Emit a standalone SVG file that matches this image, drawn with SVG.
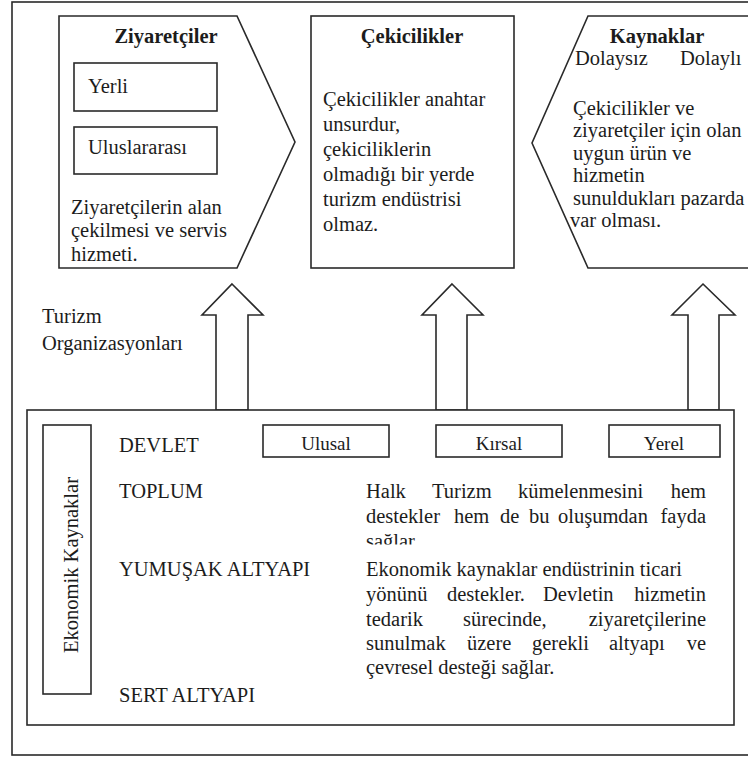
<svg xmlns="http://www.w3.org/2000/svg" width="748" height="758" viewBox="0 0 748 758">
<defs>
<style>
.ln{fill:#fff;stroke:#2a2a2a;stroke-width:1.6}
.t{font-family:"Liberation Serif","Times New Roman",serif;font-size:20.5px;fill:#1c1c1c}
.e{text-anchor:end}
.b{font-family:"Liberation Serif","Times New Roman",serif;font-size:20.5px;font-weight:bold;fill:#1c1c1c}
.s{font-family:"Liberation Serif","Times New Roman",serif;font-size:19px;fill:#1c1c1c}
</style>
<clipPath id="clipHalk"><rect x="360" y="470" width="360" height="74.5"/></clipPath>
</defs>
<rect x="0" y="0" width="748" height="758" fill="#fff"/>
<rect id="frame" class="ln" x="12" y="2" width="760" height="753"/>

<g id="ziyaretciler">
<polygon class="ln" points="59,16 237,16 295,142 237,268 59,268"/>
<text class="b" x="166" y="43" text-anchor="middle">Ziyaretçiler</text>
<rect class="ln" x="74" y="63" width="143" height="48"/>
<text class="t" x="88" y="93">Yerli</text>
<rect class="ln" x="74" y="127" width="143" height="47"/>
<text class="t" x="88" y="154">Uluslararası</text>
<text class="t" x="71" y="214">Ziyaretçilerin alan</text>
<text class="t" x="71" y="237">çekilmesi ve servis</text>
<text class="t" x="71" y="261">hizmeti.</text>
</g>

<g id="cekicilikler">
<rect class="ln" x="311" y="16" width="203" height="252"/>
<text class="b" x="412" y="43" text-anchor="middle">Çekicilikler</text>
<text class="t" x="323" y="106">Çekicilikler anahtar</text>
<text class="t" x="323" y="131">unsurdur,</text>
<text class="t" x="323" y="156">çekiciliklerin</text>
<text class="t" x="323" y="181">olmadığı bir yerde</text>
<text class="t" x="323" y="206">turizm endüstrisi</text>
<text class="t" x="323" y="231">olmaz.</text>
</g>

<g id="kaynaklar">
<polygon class="ln" points="588,16 760,16 760,268 588,268 532,143"/>
<text class="b" x="657" y="43" text-anchor="middle">Kaynaklar</text>
<text class="t" x="575" y="65">Dolaysız</text>
<text class="t" x="680" y="65">Dolaylı</text>
<text class="t" x="573" y="115">Çekicilikler ve</text>
<text class="t" x="573" y="137">ziyaretçiler için olan</text>
<text class="t" x="573" y="160">uygun ürün ve</text>
<text class="t" x="573" y="182">hizmetin</text>
<text class="t" x="573" y="205">sunuldukları pazarda</text>
<text class="t" x="570" y="227">var olması.</text>
</g>

<g id="turizm-organizasyonlari">
<text class="t" x="42" y="323">Turizm</text>
<text class="t" x="42" y="350">Organizasyonları</text>
</g>

<g id="connectors">
<polygon class="ln" points="232,284 263,315 248,315 248,410 216,410 216,315 202,315"/>
<polygon class="ln" points="452,284 483,315 467,315 467,410 436,410 436,315 422,315"/>
<polygon class="ln" points="703,284 735,315 719,315 719,410 688,410 688,315 672,315"/>
</g>

<g id="ekonomik-kaynaklar">
<rect class="ln" x="27" y="410" width="707" height="315"/>
<rect class="ln" x="43" y="425" width="48" height="269"/>
<text class="t" transform="translate(78,565) rotate(-90)" text-anchor="middle">Ekonomik Kaynaklar</text>
<text class="t" x="119" y="452">DEVLET</text>
<text class="t" x="119" y="498">TOPLUM</text>
<text class="t" x="119" y="576">YUMUŞAK ALTYAPI</text>
<text class="t" x="119" y="702">SERT ALTYAPI</text>
</g>

<g id="ulusal"><rect class="ln" x="263" y="425" width="126" height="32"/><text class="s" x="326" y="450" text-anchor="middle">Ulusal</text></g>
<g id="kirsal"><rect class="ln" x="436" y="425" width="126" height="32"/><text class="s" x="499" y="450" text-anchor="middle">Kırsal</text></g>
<g id="yerel"><rect class="ln" x="609" y="425" width="111" height="32"/><text class="s" x="664" y="450" text-anchor="middle">Yerel</text></g>

<g id="toplum-metin" clip-path="url(#clipHalk)">
<text class="t" y="498"><tspan x="366">Halk</tspan><tspan x="432">Turizm</tspan><tspan x="518">kümelenmesini</tspan></text>
<text class="t e" x="706" y="498">hem</text>
<text class="t" y="523"><tspan x="366">destekler</tspan><tspan x="454">hem</tspan><tspan x="500">de</tspan><tspan x="529">bu</tspan><tspan x="558">oluşumdan</tspan></text>
<text class="t e" x="706" y="523">fayda</text>
<text class="t" x="366" y="548">sağlar</text>
</g>

<g id="yumusak-metin">
<text class="t" x="366" y="576">Ekonomik kaynaklar endüstrinin ticari</text>
<text class="t" y="601"><tspan x="366">yönünü</tspan><tspan x="447">destekler.</tspan><tspan x="543">Devletin</tspan></text>
<text class="t e" x="706" y="601">hizmetin</text>
<text class="t" y="626"><tspan x="366">tedarik</tspan><tspan x="463">sürecinde,</tspan></text>
<text class="t e" x="706" y="626">ziyaretçilerine</text>
<text class="t" y="650"><tspan x="366">sunulmak</tspan><tspan x="467">üzere</tspan><tspan x="532">gerekli</tspan><tspan x="609">altyapı</tspan></text>
<text class="t e" x="706" y="650">ve</text>
<text class="t" x="366" y="674">çevresel desteği sağlar.</text>
</g>
</svg>
